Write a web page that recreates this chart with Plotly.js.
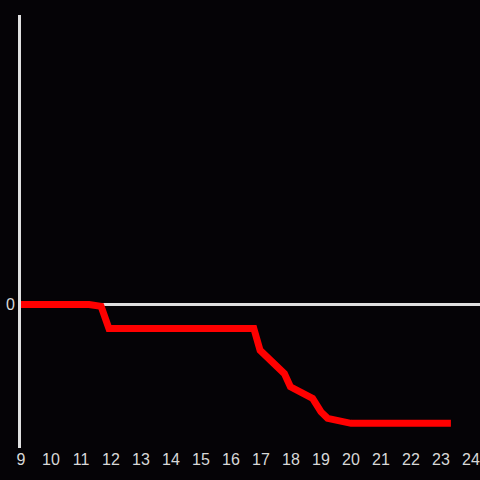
<!DOCTYPE html>
<html>
<head>
<meta charset="utf-8">
<script src="https://cdn.plot.ly/plotly-3.0.1.min.js"></script>
<style>html,body{margin:0;padding:0;background:#050306;}#chart{width:480px;height:480px;}</style>
</head>
<body>
<div id="chart"></div>
<script>
var xValues = [9, 11.27, 11.67, 11.93, 16.76, 16.97, 17.78, 17.98, 18.72, 19.0, 19.22, 19.78, 20.0, 23.33];
var yValues = [0, 0, -0.08, -1, -1, -1.92, -2.89, -3.44, -3.93, -4.49, -4.76, -4.86, -4.97, -4.97];
var xTicks = [9,10,11,12,13,14,15,16,17,18,19,20,21,22,23,24];
var yTicks = [0];

Plotly.newPlot('chart', [{
  x: xValues, y: yValues, type: 'scatter', mode: 'lines',
  line: {color: '#ff0000', width: 7}, hoverinfo: 'none'
}], {
  width: 480, height: 480,
  margin: {l: 21, r: 0, t: 15, b: 32, pad: 0},
  paper_bgcolor: '#050306', plot_bgcolor: '#050306',
  showlegend: false,
  font: {family: 'Liberation Sans, Arial, sans-serif', size: 15, color: '#d8d8d8'},
  xaxis: {range: [9, 24.3], tickvals: xTicks, ticktext: xTicks.map(String), showgrid: false, zeroline: false, showline: false, ticks: '', fixedrange: true, tickfont: {size: 16}},
  yaxis: {range: [-6, 12.1], tickvals: yTicks, ticktext: ['0'], showgrid: false, zeroline: true, zerolinecolor: '#e0e0e0', zerolinewidth: 3, showline: true, linecolor: '#e0e0e0', linewidth: 3, ticks: '', ticklabelstandoff: 0, tickfont: {size: 16}}
}, {displayModeBar: false, staticPlot: true});
</script>
</body>
</html>
